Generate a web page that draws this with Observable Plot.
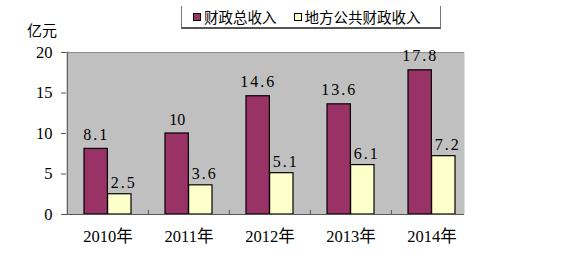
<!DOCTYPE html>
<html><head><meta charset="utf-8">
<script src="https://cdn.jsdelivr.net/npm/d3@7"></script>
<script src="https://cdn.jsdelivr.net/npm/@observablehq/plot@0.6"></script>
<style>
body{margin:0;background:#fff;}
#wrap{position:relative;width:562px;height:259px;overflow:hidden;}
#wrap svg text{font-family:"Liberation Serif","DejaVu Serif","Noto Sans CJK SC",serif !important;}
.legend{position:absolute;left:181px;top:6px;width:260px;height:23px;border:1px solid #777;border-top:none;border-bottom:2px solid #555;font:14.5px "Noto Sans CJK SC";color:#000;display:flex;align-items:center;box-sizing:border-box;white-space:nowrap;}
.legend span.sw{display:inline-block;width:6px;height:6px;border:1px solid #000;margin:0 3px 0 11px;flex:none;}
.legend span.t{margin-right:6px;}
.unit{position:absolute;left:27px;top:19px;font:15px "Noto Sans CJK SC";color:#000;}
</style></head>
<body><div id="wrap"></div>
<script>
const years = ["2010年","2011年","2012年","2013年","2014年"];
const totalRevenue = [8.1, 10, 14.6, 13.6, 17.8];
const localRevenue = [2.5, 3.6, 5.1, 6.1, 7.2];
const seriesNames = ["财政总收入","地方公共财政收入"];
const seriesColors = ["#993366","#FFFFCC"];
const yTicks = [0, 5, 10, 15, 20];
const unitLabel = "亿元";

const data = years.map((y, i) => ({year: y, total: totalRevenue[i], local: localRevenue[i]}));

const W = 562, H = 259, mL = 66, mR = 90, mT = 52, mB = 45;
const step = (W - mL - mR) / years.length;
const barW = 23.6;
const off = (step / 2) - barW;

const chart = Plot.plot({
  width: W, height: H,
  marginLeft: mL, marginRight: mR, marginTop: mT, marginBottom: mB,
  style: {fontSize: "16px", color: "#000", background: "transparent"},
  x: {domain: years, type: "band", padding: 0, label: null},
  y: {domain: [0, 20], label: null},
  marks: [
    Plot.frame({fill: "#C0C0C0", stroke: "none", insetRight: 8}),
    Plot.ruleY([20], {stroke: "#8a8a8a", insetRight: 8}),
    Plot.barY(data, {x: "year", y: "total", fill: seriesColors[0], stroke: "#000", strokeWidth: 1.2, insetLeft: off, insetRight: step / 2}),
    Plot.barY(data, {x: "year", y: "local", fill: seriesColors[1], stroke: "#000", strokeWidth: 1.2, insetLeft: step / 2, insetRight: off}),
    Plot.ruleY([0], {stroke: "#555", insetRight: 8}),
    Plot.ruleX(years.slice(0, 1), {x: d => d, y1: 0, y2: 20, dx: -step / 2, stroke: "#555"}),
    Plot.ruleX(years.slice(1), {x: d => d, y1: 0, y2: 0, insetTop: -4, dx: -step / 2, stroke: "#555"}),
    Plot.axisY({ticks: yTicks, tickSize: 5, tickPadding: 9, stroke: "#555", fontSize: 16.5}),
    Plot.axisX({tickSize: 0, tickPadding: 16, fontSize: 16.5}),
    Plot.text(data, {x: "year", y: "total", text: d => String(d.total), dx: -barW / 2, dy: -9, lineAnchor: "bottom", fontSize: 16, style: "letter-spacing:2px"}),
    Plot.text(data, {x: "year", y: "local", text: d => String(d.local), dx: barW / 2 + 4, dy: -6, lineAnchor: "bottom", fontSize: 16})
  ]
});
const wrap = document.getElementById("wrap");
wrap.appendChild(chart);
chart.querySelectorAll("text").forEach(t => { if (/\./.test(t.textContent)) t.setAttribute("letter-spacing", "2"); });

const lg = document.createElement("div");
lg.className = "legend";
lg.innerHTML = seriesNames.map((n, i) => `<span class="sw" style="background:${seriesColors[i]}"></span><span class="t">${n}</span>`).join("");
wrap.appendChild(lg);

const u = document.createElement("div");
u.className = "unit";
u.textContent = unitLabel;
wrap.appendChild(u);
</script>
</body></html>
